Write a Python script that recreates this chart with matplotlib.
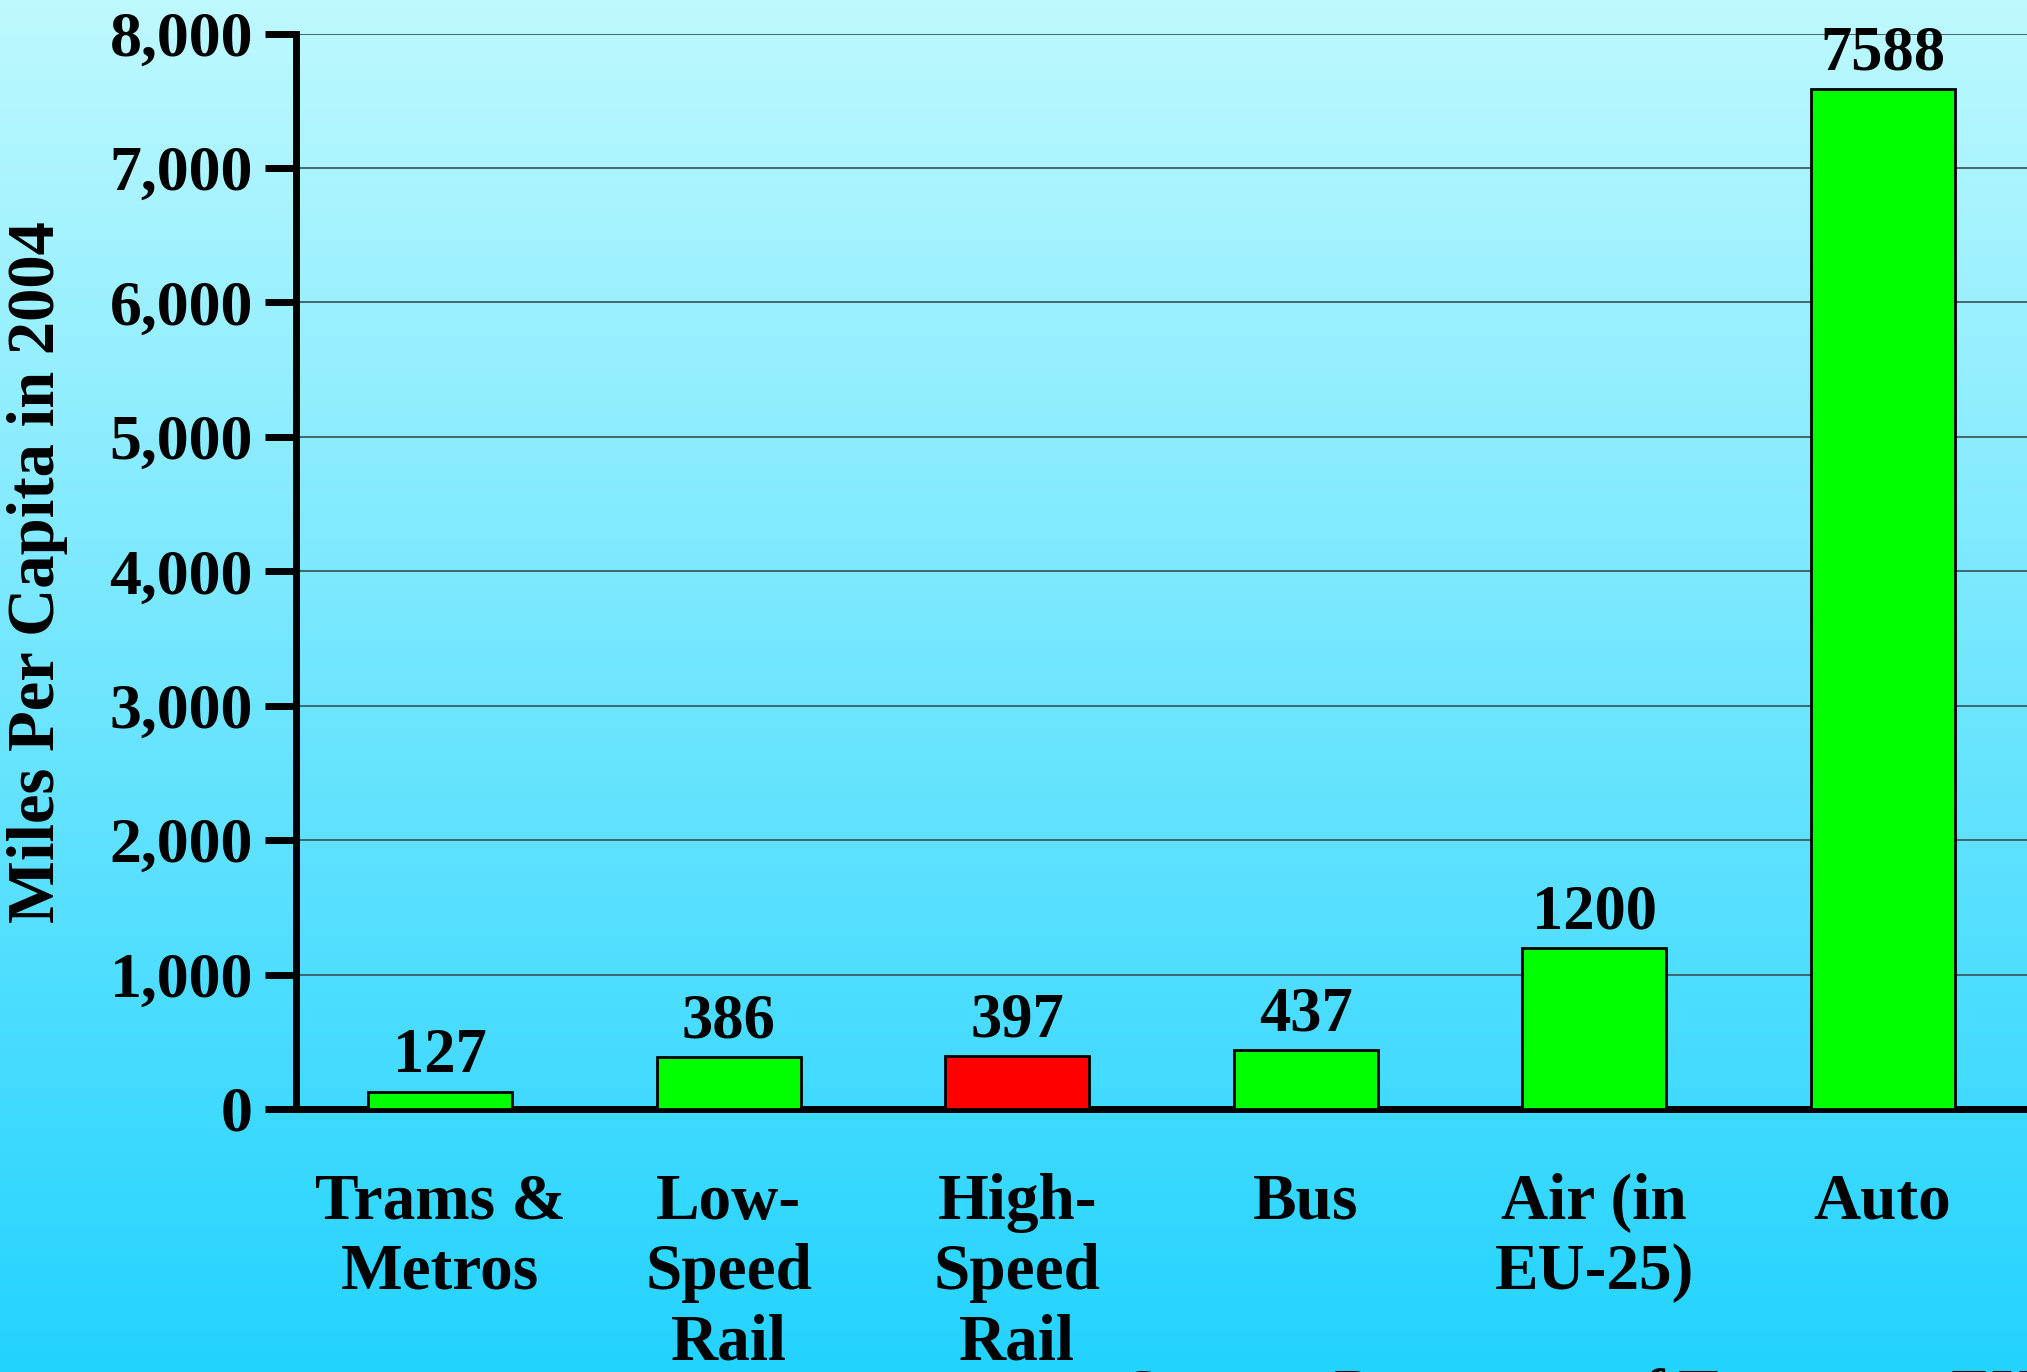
import numpy as np
import matplotlib.pyplot as plt
from matplotlib.colors import LinearSegmentedColormap

# data
modes = ['Trams &\nMetros', 'Low-\nSpeed\nRail', 'High-\nSpeed\nRail', 'Bus', 'Air (in\nEU-25)', 'Auto']
miles = [127, 386, 397, 437, 1200, 7588]
colors = ['#00ff00', '#00ff00', '#ff0000', '#00ff00', '#00ff00', '#00ff00']
yticks = [0, 1000, 2000, 3000, 4000, 5000, 6000, 7000, 8000]

font = 'Liberation Serif'

fig = plt.figure(figsize=(20.27, 13.72), dpi=100)

# background gradient, light cyan at the top to a deeper cyan at the bottom
bg = fig.add_axes([0, 0, 1, 1])
bg.axis('off')
grad = LinearSegmentedColormap.from_list('bg', ['#22d3fe', '#bef9fe'])
bg.imshow(np.linspace(0, 1, 256).reshape(-1, 1), cmap=grad, aspect='auto',
          origin='lower', extent=[0, 1, 0, 1])
bg.set_xlim(0, 1)
bg.set_ylim(0, 1)

ax = fig.add_axes([0.146, 0.1917, 0.854, 0.7838])
ax.patch.set_alpha(0)

x = np.arange(len(modes))
bars = ax.bar(x, miles, width=0.5, color=colors, edgecolor='black', linewidth=2, zorder=3)

for b, v in zip(bars, miles):
    ax.annotate(str(v), (b.get_x() + b.get_width() / 2, v), xytext=(0, 4),
                textcoords='offset points', ha='center', va='bottom',
                fontsize=45, fontweight='bold', family=font, zorder=4)

ax.set_xlim(-0.5, 5.5)
ax.set_ylim(0, 8000)
ax.set_yticks(yticks)
ax.set_yticklabels([f'{t:,}' for t in yticks], fontsize=46, fontweight='bold', family=font)
ax.set_xticks(x)
ax.set_xticklabels(modes, fontsize=47, fontweight='bold', family=font, linespacing=1.22)
ax.tick_params(axis='x', length=0, pad=46)
ax.tick_params(axis='y', length=22, width=5, pad=9, direction='out')

ax.grid(axis='y', color='#3c5c62', linewidth=1.3, zorder=1)
for side in ['top', 'right']:
    ax.spines[side].set_visible(False)
for side in ['left', 'bottom']:
    ax.spines[side].set_linewidth(5)

fig.text(38 / 2027, 0.583, 'Miles Per Capita in 2004', rotation=90, ha='center', va='center',
         fontsize=48, fontweight='bold', family=font)

# source note, almost entirely cut off by the bottom edge (as in the original)
fig.text(1125 / 2027, 4 / 1372, 'Source: Panorama of Transport EU-25', ha='left', va='top',
         fontsize=43, fontweight='bold', family=font)

fig.savefig('out.png', dpi=100)
